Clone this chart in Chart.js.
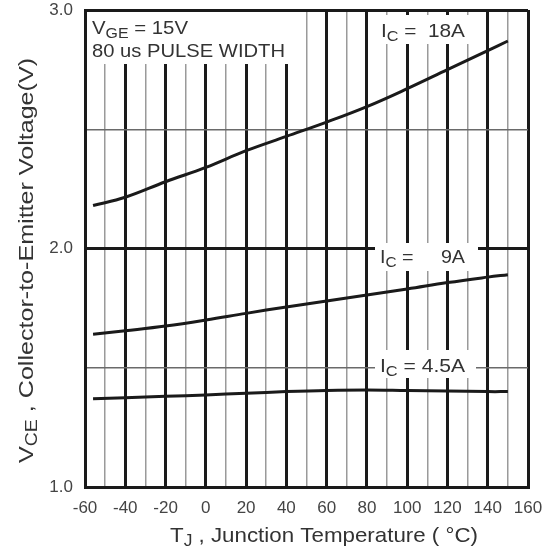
<!DOCTYPE html>
<html>
<head>
<meta charset="utf-8">
<script src="https://cdn.jsdelivr.net/npm/chart.js@4.4.0/dist/chart.umd.min.js"></script>
<style>
  html, body { margin: 0; padding: 0; background: #fff; }
  #wrap { width: 549px; height: 554px; }
</style>
</head>
<body>
<div id="wrap"><canvas id="chart" width="549" height="554"></canvas></div>
<script>
'use strict'

// junction temperature (°C) and V_CE (V)
const temps = [-56, -40, -20, 0, 20, 40, 60, 80, 100, 120, 140, 150]
const vce18A = [2.18, 2.215, 2.28, 2.34, 2.41, 2.47, 2.53, 2.595, 2.67, 2.75, 2.83, 2.87]
const vce9A = [1.64, 1.655, 1.675, 1.70, 1.728, 1.755, 1.78, 1.805, 1.83, 1.857, 1.88, 1.89]
const vce45A = [1.37, 1.374, 1.38, 1.386, 1.393, 1.40, 1.405, 1.407, 1.405, 1.403, 1.40, 1.40]
const seriesNames = ['IC = 18A', 'IC = 9A', 'IC = 4.5A']

const FONT = '"Liberation Sans", Arial, Helvetica, sans-serif'
const INK = '#1a1a1a'
const TEXT = '#333'

const toPoints = (xs, ys) => xs.map((x, i) => ({x: x, y: ys[i]}))

// draw text made of [text, isSubscript] parts, stretched to a given width
function drawRich(ctx, parts, x, y, size, width) {
    ctx.save()
    ctx.fillStyle = TEXT
    ctx.textBaseline = 'alphabetic'
    ctx.textAlign = 'left'
    let natural = 0
    for (const [t, sub] of parts) {
        ctx.font = `${sub ? size * 0.78 : size}px ${FONT}`
        natural += ctx.measureText(t).width
    }
    ctx.translate(x, y)
    if (width) ctx.scale(width / natural, 1)
    let cx = 0
    for (const [t, sub] of parts) {
        ctx.font = `${sub ? size * 0.78 : size}px ${FONT}`
        ctx.fillText(t, cx, sub ? size * 0.2 : 0)
        cx += ctx.measureText(t).width
    }
    ctx.restore()
}

const annotations = {
    id: 'annotations',
    beforeDatasetsDraw(chart) {
        // white boxes behind the in-plot text break the grid lines
        const ctx = chart.ctx
        ctx.save()
        ctx.fillStyle = '#fff'
        ctx.fillRect(88, 12, 203, 52)
        ctx.fillRect(375, 15, 103, 29)
        ctx.fillRect(375, 243, 103, 28)
        ctx.fillRect(375, 350, 101, 28)
        ctx.restore()
    },
    afterDatasetsDraw(chart) {
        const ctx = chart.ctx
        drawRich(ctx, [['V', false], ['GE', true], [' = 15V', false]], 92, 34, 19, 96)
        drawRich(ctx, [['80 us PULSE WIDTH', false]], 92, 57, 19, 193)
        drawRich(ctx, [['I', false], ['C', true], [' =  18A', false]], 381, 37, 19, 84)
        drawRich(ctx, [['I', false], ['C', true], [' =     9A', false]], 380, 263, 19, 85)
        drawRich(ctx, [['I', false], ['C', true], [' = 4.5A', false]], 380, 372, 19, 85)

        // axis titles with subscripts
        drawRich(ctx, [['T', false], ['J', true], [' , Junction Temperature ( °C)', false]], 170, 542, 21, 308)
        ctx.save()
        ctx.translate(33, 463)
        ctx.rotate(-Math.PI / 2)
        drawRich(ctx, [['V', false], ['CE', true], [' , Collector-to-Emitter Voltage(V)', false]], 0, 0, 21, 405)
        ctx.restore()
    }
}

const datasets = [vce18A, vce9A, vce45A].map((values, i) => ({
    label: seriesNames[i],
    data: toPoints(temps, values),
    borderColor: INK,
    borderWidth: 3,
    pointRadius: 0,
    fill: false,
    tension: 0.4
}))

const isMajorX = v => Math.round(v) % 20 === 0
const isMajorY = v => Math.abs(v - Math.round(v)) < 1e-6

new Chart(document.getElementById('chart'), {
    type: 'line',
    data: {datasets: datasets},
    options: {
        responsive: false,
        animation: false,
        layout: {padding: {left: 0, right: 21, top: 10, bottom: 0}},
        plugins: {
            legend: {display: false},
            tooltip: {enabled: false}
        },
        scales: {
            x: {
                type: 'linear',
                min: -60,
                max: 160,
                afterFit: scale => {
                    scale.height = 67
                    scale.paddingLeft = 0
                    scale.paddingRight = 0
                },
                border: {display: true, color: INK, width: 3},
                grid: {
                    drawTicks: false,
                    color: c => isMajorX(c.tick.value) ? INK : '#9a9a9a',
                    lineWidth: c => isMajorX(c.tick.value) ? 3 : 1.5
                },
                ticks: {
                    stepSize: 10,
                    autoSkip: false,
                    maxRotation: 0,
                    padding: 11,
                    color: '#444',
                    font: {family: FONT, size: 17},
                    callback: v => isMajorX(v) ? String(v) : ''
                }
            },
            y: {
                min: 1,
                max: 3,
                afterFit: scale => {
                    scale.width = 85
                    scale.paddingTop = 0
                    scale.paddingBottom = 0
                },
                border: {display: true, color: INK, width: 3},
                grid: {
                    drawTicks: false,
                    color: c => isMajorY(c.tick.value) ? INK : '#6a6a6a',
                    lineWidth: c => isMajorY(c.tick.value) ? 3 : 1.5
                },
                ticks: {
                    stepSize: 0.5,
                    autoSkip: false,
                    padding: 12,
                    color: '#444',
                    font: {family: FONT, size: 17},
                    callback: v => isMajorY(v) ? v.toFixed(1) : ''
                }
            }
        }
    },
    plugins: [annotations]
})
</script>
</body>
</html>
